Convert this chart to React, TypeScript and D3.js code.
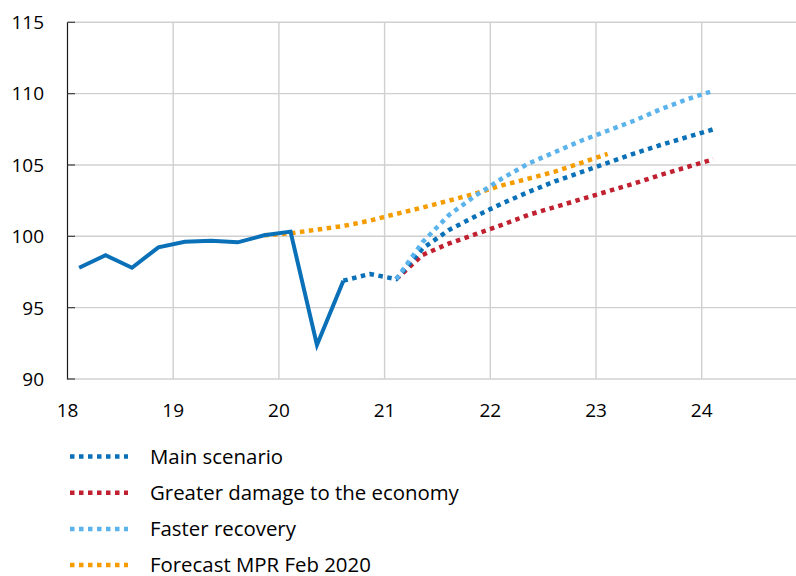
import React from "react";
import * as d3 from "d3";

const W = 796;
const H = 576;

// quarterly time (year index, mid-quarter)
const histQuarters = ["18Q1","18Q2","18Q3","18Q4","19Q1","19Q2","19Q3","19Q4","20Q1","20Q2","20Q3"];
const histValues = [97.8, 98.67, 97.8, 99.23, 99.62, 99.69, 99.58, 100.07, 100.33, 92.38, 96.89];

const mainQuarters = ["20Q3","20Q4","21Q1","21Q2","21Q3","21Q4","22Q1","22Q2","22Q3","22Q4","23Q1","23Q2","23Q3","23Q4","24Q1"];
const mainValues = [96.89, 97.36, 97.0, 99.15, 100.45, 101.4, 102.3, 103.1, 103.85, 104.5, 105.15, 105.8, 106.4, 106.95, 107.5];

const scenQuarters = ["21Q1","21Q2","21Q3","21Q4","22Q1","22Q2","22Q3","22Q4","23Q1","23Q2","23Q3","23Q4","24Q1"];
const damageValues = [97.0, 98.7, 99.5, 100.15, 100.8, 101.5, 102.05, 102.6, 103.15, 103.7, 104.3, 104.85, 105.4];
const fasterValues = [97.0, 99.6, 101.5, 102.85, 104.05, 105.1, 105.9, 106.7, 107.4, 108.1, 108.9, 109.6, 110.2];

const mprQuarters = ["19Q4","20Q1","20Q2","20Q3","20Q4","21Q1","21Q2","21Q3","21Q4","22Q1","22Q2","22Q3","22Q4","23Q1"];
const mprValues = [100.07, 100.21, 100.47, 100.72, 101.1, 101.57, 102.02, 102.5, 103.0, 103.57, 104.04, 104.53, 105.15, 105.78];

const xTicks = [18, 19, 20, 21, 22, 23, 24];
const yTicks = [90, 95, 100, 105, 110, 115];

const legendItems = [
  { label: "Main scenario", color: "#0a70b8" },
  { label: "Greater damage to the economy", color: "#c0202f" },
  { label: "Faster recovery", color: "#5bb3ec" },
  { label: "Forecast MPR Feb 2020", color: "#f59c00" },
];

const qToX = (q: string) => {
  const yr = +q.slice(0, 2);
  const qn = +q.slice(3);
  return yr + (qn - 1) * 0.25 + 0.11;
};

export default function App() {
  const x = d3.scaleLinear().domain([18, 25]).range([67.5, 67.5 + 7 * 105.7]);
  const y = d3.scaleLinear().domain([90, 115]).range([379, 22.3]);
  const line = d3
    .line<[number, number]>()
    .x((d) => x(d[0]))
    .y((d) => y(d[1]));
  const mk = (qs: string[], vs: number[]) => line(qs.map((q, i) => [qToX(q), vs[i]] as [number, number])) || "";

  const font = "'Open Sans', sans-serif";
  const dash = "4.5 4.5";
  const sw = 4.5;

  return (
    <svg width={W} height={H} style={{ position: "absolute", left: 0, top: 0, background: "#fff" }}>
      <defs>
        <clipPath id="plot">
          <rect x={67} y={0} width={W - 67} height={380} />
        </clipPath>
      </defs>
      {/* horizontal grid */}
      {yTicks.map((t) => (
        <line key={"h" + t} x1={67.5} x2={W} y1={y(t)} y2={y(t)} stroke="#d0d0d0" strokeWidth={1.4} />
      ))}
      {/* vertical grid */}
      {xTicks.slice(1).map((t) => (
        <line key={"v" + t} x1={x(t)} x2={x(t)} y1={y(115)} y2={y(90)} stroke="#d0d0d0" strokeWidth={1.4} />
      ))}
      {/* left axis */}
      <line x1={67.5} x2={67.5} y1={y(115)} y2={y(90) + 0.5} stroke="#1a1a1a" strokeWidth={1.2} />
      {yTicks.map((t) => (
        <line key={"t" + t} x1={67.5} x2={75} y1={y(t)} y2={y(t)} stroke="#404040" strokeWidth={1.2} />
      ))}
      {/* y labels */}
      {yTicks.map((t) => (
        <text key={"yl" + t} x={44} y={y(t)} dy="0.36em" textAnchor="end" fontFamily={font} fontSize={19} fill="#000">
          {t}
        </text>
      ))}
      {/* x labels */}
      {xTicks.map((t) => (
        <text key={"xl" + t} x={x(t)} y={417} textAnchor="middle" fontFamily={font} fontSize={19} fill="#000">
          {t}
        </text>
      ))}
      <g clipPath="url(#plot)" fill="none">
        <path d={mk(mprQuarters, mprValues)} stroke={legendItems[3].color} strokeWidth={sw} strokeDasharray={dash} />
        <path d={mk(scenQuarters, damageValues)} stroke={legendItems[1].color} strokeWidth={sw} strokeDasharray={dash} />
        <path d={mk(mainQuarters, mainValues)} stroke={legendItems[0].color} strokeWidth={sw} strokeDasharray={dash} />
        <path d={mk(scenQuarters, fasterValues)} stroke={legendItems[2].color} strokeWidth={sw} strokeDasharray={dash} />
        <path d={mk(histQuarters, histValues)} stroke="#0a70b8" strokeWidth={4} strokeLinejoin="miter" />
      </g>
      {/* legend */}
      {legendItems.map((it, i) => {
        const ly = 456.5 + i * 36.2;
        return (
          <g key={it.label}>
            <line x1={70} x2={128} y1={ly} y2={ly} stroke={it.color} strokeWidth={sw} strokeDasharray={dash} />
            <text x={150} y={ly} dy="0.36em" fontFamily={font} fontSize={20.4} fill="#000">
              {it.label}
            </text>
          </g>
        );
      })}
    </svg>
  );
}
